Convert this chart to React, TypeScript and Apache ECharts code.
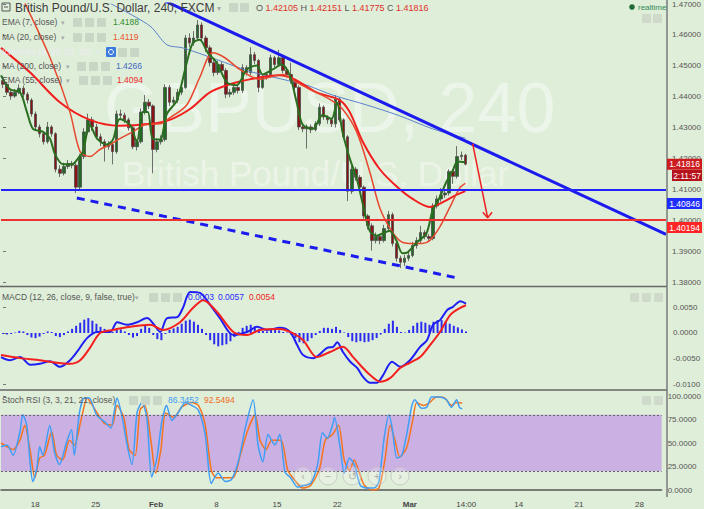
import { useEffect, useRef } from 'react';
import * as echarts from 'echarts';

// ---------- axis / time slots (8-hour bars, incl. future space) ----------
const slotCount = 164;
const tickIdx = [8, 23, 38, 53, 68, 83, 101, 115, 128, 143, 158];
const tickText = ['18', '25', 'Feb', '8', '15', '22', 'Mar', '14:00', '14', '21', '28'];

// ---------- price candles ----------
const opens = [
  1.4452, 1.444, 1.4414, 1.4402, 1.4414, 1.4427, 1.4408, 1.4389, 1.4344, 1.4302,
  1.428, 1.4254, 1.4302, 1.428, 1.4165, 1.4152, 1.4174, 1.4184, 1.4178, 1.4107,
  1.4206, 1.4286, 1.4325, 1.4302, 1.427, 1.4254, 1.4238, 1.4245, 1.4222, 1.4344,
  1.434, 1.4325, 1.4299, 1.4238, 1.4254, 1.435, 1.4382, 1.437, 1.4229, 1.4254,
  1.4261, 1.443, 1.4382, 1.4389, 1.4414, 1.443, 1.459, 1.4574, 1.459, 1.4632,
  1.459, 1.4558, 1.451, 1.4478, 1.4504, 1.4485, 1.4408, 1.4414, 1.443, 1.442,
  1.4494, 1.4478, 1.4536, 1.4517, 1.443, 1.4462, 1.4472, 1.4526, 1.4504, 1.4526,
  1.4485, 1.4472, 1.4453, 1.443, 1.4302, 1.4296, 1.4302, 1.4293, 1.4312, 1.4366,
  1.4334, 1.4325, 1.4312, 1.4392, 1.4325, 1.427, 1.4094, 1.4165, 1.4139, 1.4107,
  1.4014, 1.3982, 1.3934, 1.3947, 1.3934, 1.3973, 1.4018, 1.3925, 1.3877, 1.3864,
  1.3877, 1.3886, 1.3918, 1.3934, 1.396, 1.3947, 1.3941, 1.4046, 1.4069, 1.4082,
  1.4088, 1.4158, 1.4142, 1.4206, 1.42105,
];
const closes = [
  1.444, 1.4414, 1.4402, 1.4414, 1.4427, 1.4408, 1.4389, 1.4344, 1.4302, 1.428,
  1.4254, 1.4302, 1.428, 1.4165, 1.4152, 1.4174, 1.4184, 1.4178, 1.4107, 1.4206,
  1.4286, 1.4325, 1.4302, 1.427, 1.4254, 1.4238, 1.4245, 1.4222, 1.4344, 1.434,
  1.4325, 1.4299, 1.4238, 1.4254, 1.435, 1.4382, 1.437, 1.4229, 1.4254, 1.4261,
  1.443, 1.4382, 1.4389, 1.4414, 1.443, 1.459, 1.4574, 1.459, 1.4632, 1.459,
  1.4558, 1.451, 1.4478, 1.4504, 1.4485, 1.4408, 1.4414, 1.443, 1.442, 1.4494,
  1.4478, 1.4536, 1.4517, 1.443, 1.4462, 1.4472, 1.4526, 1.4504, 1.4526, 1.4485,
  1.4472, 1.4453, 1.443, 1.4302, 1.4296, 1.4302, 1.4293, 1.4312, 1.4366, 1.4334,
  1.4325, 1.4312, 1.4392, 1.4325, 1.427, 1.4094, 1.4165, 1.4139, 1.4107, 1.4014,
  1.3982, 1.3934, 1.3947, 1.3934, 1.3973, 1.4018, 1.3925, 1.3877, 1.3864, 1.3877,
  1.3886, 1.3918, 1.3934, 1.396, 1.3947, 1.3941, 1.4046, 1.4069, 1.4082, 1.4088,
  1.4158, 1.4142, 1.4206, 1.421, 1.41816,
];
const lows = [
  1.4428, 1.4405, 1.439, 1.4396, 1.4408, 1.4398, 1.4378, 1.4335, 1.429, 1.4268,
  1.4245, 1.4248, 1.427, 1.4155, 1.414, 1.4145, 1.4166, 1.4168, 1.4088, 1.41,
  1.4198, 1.4278, 1.429, 1.4262, 1.424, 1.419, 1.4228, 1.4181, 1.4215, 1.433,
  1.4315, 1.429, 1.423, 1.4226, 1.4248, 1.4342, 1.436, 1.4152, 1.422, 1.4245,
  1.4255, 1.437, 1.4372, 1.438, 1.4405, 1.4425, 1.456, 1.4565, 1.4582, 1.458,
  1.4545, 1.4498, 1.4466, 1.447, 1.4475, 1.4395, 1.4398, 1.4405, 1.441, 1.4412,
  1.4468, 1.447, 1.4505, 1.4414, 1.4425, 1.4455, 1.4465, 1.4495, 1.4498, 1.4476,
  1.4462, 1.4442, 1.442, 1.4292, 1.4285, 1.4232, 1.4282, 1.4288, 1.4305, 1.4325,
  1.4312, 1.4302, 1.43, 1.4318, 1.4262, 1.4062, 1.4085, 1.4128, 1.4095, 1.4005,
  1.397, 1.3902, 1.3925, 1.3922, 1.3928, 1.3965, 1.3915, 1.3866, 1.3845, 1.3852,
  1.3868, 1.388, 1.3908, 1.3925, 1.3938, 1.393, 1.3935, 1.4038, 1.406, 1.4072,
  1.408, 1.4118, 1.4135, 1.4195, 1.41775,
];
const highs = [
  1.4466, 1.4448, 1.442, 1.4425, 1.444, 1.4436, 1.4415, 1.4395, 1.4352, 1.431,
  1.4288, 1.4318, 1.4308, 1.4285, 1.4178, 1.4186, 1.4195, 1.4192, 1.4185, 1.4215,
  1.4298, 1.4345, 1.4335, 1.4312, 1.428, 1.4262, 1.4256, 1.425, 1.4355, 1.4358,
  1.4348, 1.4332, 1.4305, 1.4262, 1.4362, 1.4405, 1.4392, 1.4375, 1.4265, 1.4275,
  1.444, 1.4438, 1.44, 1.4425, 1.4446, 1.46, 1.4605, 1.4612, 1.4648, 1.464,
  1.4598, 1.4566, 1.4518, 1.4515, 1.4512, 1.4492, 1.4425, 1.444, 1.4438, 1.4505,
  1.4502, 1.456, 1.4545, 1.4522, 1.447, 1.448, 1.4536, 1.4532, 1.4552, 1.453,
  1.4496, 1.451, 1.4458, 1.4436, 1.4312, 1.431, 1.431, 1.432, 1.4378, 1.4372,
  1.434, 1.4332, 1.4405, 1.4398, 1.433, 1.4275, 1.4176, 1.4172, 1.4146, 1.4112,
  1.402, 1.399, 1.396, 1.3955, 1.3985, 1.403, 1.4025, 1.3932, 1.3885, 1.3888,
  1.3898, 1.393, 1.3945, 1.3982, 1.3968, 1.3955, 1.4055, 1.408, 1.4104, 1.4098,
  1.4165, 1.4165, 1.424, 1.4222, 1.42151,
];

// ---------- moving averages [bar position, price] ----------
const ema7 = [[-0.5,1.4469],[1.7,1.4424],[4.2,1.4414],[5.9,1.435],[7.4,1.4296],[9.9,1.4286],[11.6,1.4264],[12.8,1.4214],[14.8,1.4181],[17,1.4181],[18.5,1.42],[19.7,1.4222],[21.4,1.4309],[23.2,1.4264],[25.6,1.4245],[27.1,1.4261],[28.8,1.4328],[31.3,1.4309],[33,1.4254],[34.5,1.435],[35.7,1.435],[36.9,1.4264],[38.7,1.4261],[40.4,1.4344],[42.9,1.4389],[45.3,1.451],[46.8,1.4574],[48.5,1.4584],[50.5,1.4542],[52.7,1.451],[55.2,1.4446],[57.6,1.4437],[60.1,1.4488],[62.6,1.4501],[64,1.4472],[66.5,1.4488],[68.7,1.4504],[70.7,1.4469],[72.4,1.4382],[73.9,1.4309],[76.4,1.4296],[78.8,1.4341],[81,1.4328],[82.3,1.4382],[83.7,1.4286],[85.5,1.42],[87.2,1.4136],[88.7,1.4053],[90.4,1.3966],[92.1,1.395],[93.6,1.3957],[95.3,1.3966],[97,1.3934],[98.5,1.3893],[99.8,1.3896],[102,1.3928],[104.4,1.3957],[105.9,1.403],[107.6,1.4072],[109.4,1.4126],[110.8,1.4158],[112.1,1.419],[114,1.4188]];
const ma20 = [[5.4,1.4702],[11.6,1.4526],[16.5,1.435],[19,1.4222],[21.4,1.4206],[23.9,1.4229],[26.4,1.4245],[28.8,1.4264],[32,1.4286],[35,1.4309],[38.7,1.4312],[41.1,1.4331],[45.3,1.4373],[48.5,1.4462],[51.7,1.4542],[54.7,1.4526],[58.4,1.4488],[63.3,1.4456],[69,1.4472],[72.4,1.4446],[75.6,1.4424],[80.5,1.4392],[83.7,1.436],[87.2,1.4286],[90.4,1.4158],[92.9,1.404],[95.3,1.3976],[97.8,1.3934],[100.2,1.3925],[103.4,1.3925],[105.2,1.3934],[107.6,1.3976],[110.1,1.404],[112.6,1.4104],[114,1.4119]];
const ema55 = [[-0.5,1.4558],[6.7,1.4478],[14,1.4382],[21.4,1.4325],[28.8,1.4306],[36.2,1.4312],[41.1,1.4325],[46.1,1.436],[51,1.4414],[55.9,1.444],[60.8,1.4456],[68.2,1.4469],[71.9,1.4456],[77.3,1.4414],[83,1.4389],[85.5,1.435],[88.7,1.4254],[92.9,1.4165],[97,1.411],[101,1.4069],[105.2,1.4043],[107.6,1.4053],[111.8,1.4082],[114,1.4094]];
const ma200 = [[26.4,1.4702],[36.2,1.4629],[40.4,1.4568],[44.3,1.4558],[52.7,1.452],[60.8,1.4482],[69,1.4456],[74.9,1.4437],[81.3,1.4405],[89.7,1.4373],[97.8,1.4338],[105.9,1.4296],[112.6,1.427],[114,1.4266]];

// ---------- drawn levels / trend lines ----------
const blueLevel = 1.40846;
const redLevel = 1.40194;
const lastPrice = 1.41816;
const countdown = '2:11:57';
const trendDown = [[40, 1.4709], [163.5, 1.3954]];
const trendSupport = [[18.2, 1.4072], [112.1, 1.3813]];
const arrowShaft = [[115.8, 1.4248], [119.5, 1.4008]];
const arrowHead = [[118.3, 1.4026], [119.5, 1.4008], [120.6, 1.4026]];

// ---------- MACD ----------
const macdLine = [[-0.5,-0.0047],[1.7,-0.0053],[4.2,-0.0047],[6.7,-0.0062],[9.1,-0.006],[11.6,-0.0055],[14,-0.0066],[16.5,-0.0053],[18.2,-0.0037],[20.7,-0.001],[23.2,0.0002],[26.4,0.0002],[28.1,0.0021],[30.5,0.0016],[33,0.0021],[35.5,0.0029],[36.9,0.0019],[38.7,0.0002],[40.4,0.0029],[42.9,0.0031],[44.3,0.0049],[46.1,0.008],[48.5,0.0078],[51,0.0055],[53.4,0.0029],[56.7,-0.0004],[60.1,0.0002],[62.6,0.0012],[65,0.0006],[68.2,0.001],[70.7,0.0002],[72.4,-0.0023],[73.9,-0.0043],[76.4,-0.0049],[79.8,-0.0029],[81.3,-0.0027],[82.3,-0.0018],[83.7,-0.0037],[85.5,-0.0056],[87.2,-0.0068],[88.7,-0.0086],[90.4,-0.0097],[92.1,-0.0097],[93.6,-0.0082],[95.8,-0.0056],[97.8,-0.0066],[100.2,-0.0053],[102.7,-0.0027],[104.4,-0.0014],[105.9,0.0016],[107.6,0.0025],[109.4,0.0045],[110.8,0.0051],[112.6,0.0062],[114,0.0057]];
const signalLine = [[-0.5,-0.0043],[4.2,-0.0049],[9.1,-0.0053],[13.3,-0.0058],[16.5,-0.006],[19,-0.0053],[21.4,-0.0029],[23.9,0],[27.1,0.0006],[31.3,0.0012],[36.2,0.0016],[39.4,0.0006],[43.6,0.0021],[46.8,0.0049],[49.3,0.0064],[52.7,0.0041],[56.7,0.0002],[60.1,-0.0004],[63.3,0.0006],[68.2,0.0008],[70.7,0.0002],[73.9,-0.0014],[77.3,-0.0047],[80.5,-0.0037],[83.7,-0.0027],[86.2,-0.0047],[87.9,-0.0062],[90.4,-0.0082],[92.9,-0.0095],[95.3,-0.0088],[97.8,-0.0068],[100.2,-0.0058],[102.7,-0.0047],[105.2,-0.0023],[107.6,0.0002],[110.1,0.0035],[112.6,0.0049],[114,0.0054]];
const macdHist = [
  -0.0002, -0.0003, -0.0002, 0.0001, 0.0004, 0.0003, -0.0004, -0.0009, -0.001, -0.0007,
  -0.0002, 0.0003, 0.0002, -0.0006, -0.0008, -0.0004, 0.0003, 0.0008, 0.0014, 0.002,
  0.0026, 0.0029, 0.0024, 0.0018, 0.0012, 0.0008, 0.0003, 0.0002, 0.0008, 0.0007,
  0.0003, -0.0004, -0.0009, -0.0006, 0.0008, 0.0014, 0.001, -0.0004, -0.0012, -0.0014,
  -0.0002, 0.0006, 0.0009, 0.0012, 0.0018, 0.0024, 0.0026, 0.0022, 0.0016, 0.0008,
  -0.0004, -0.0014, -0.0022, -0.0026, -0.0024, -0.0022, -0.0016, -0.0008, 0.0002, 0.001,
  0.0014, 0.0016, 0.0013, 0.0008, 0.0004, 0.0003, 0.0006, 0.0007, 0.0005, 0.0002,
  0.0001, -0.0003, -0.001, -0.0018, -0.002, -0.0016, -0.001, -0.0004, 0.0004, 0.001,
  0.001, 0.0008, 0.0012, 0.0006, 0.0001, -0.0008, -0.0016, -0.0018, -0.0016, -0.0018,
  -0.0017, -0.0014, -0.001, -0.0003, 0.0008, 0.0018, 0.0024, 0.0012, 0.0002, 0.0001,
  0.0006, 0.0014, 0.002, 0.0022, 0.002, 0.0016, 0.0022, 0.0025, 0.0025, 0.0023,
  0.0018, 0.0014, 0.0011, 0.0007, 0.0003,
];

// ---------- Stoch RSI ----------
const stochK = [[-0.5,46],[1,48],[2.5,37],[4.2,62],[4.9,80],[5.9,69],[6.7,30],[7.4,9],[8.4,23],[9.1,46],[9.9,37],[11.6,69],[12.8,40],[14,27],[15.8,51],[17,64],[17.7,37],[19,83],[20.2,98],[21.4,98],[23.2,80],[25.6,71],[26.8,66],[27.6,83],[28.3,98],[29.6,77],[30.8,48],[32,27],[33.3,83],[34.5,93],[35.7,77],[36.9,14],[38.2,34],[39.4,72],[40.6,90],[41.9,74],[43.6,83],[45.3,93],[46.8,90],[48.5,85],[50.2,59],[51.7,7],[53.4,18],[55.2,9],[56.7,11],[58.4,30],[60.3,69],[62.1,96],[63.3,48],[64.5,30],[65.8,59],[67.5,48],[68.7,59],[70,19],[71.4,13],[73.2,3],[74.9,5],[76.4,7],[78.1,27],[79.3,61],[80.5,55],[81.8,69],[82.3,77],[83.7,45],[84.7,18],[86,34],[87.2,27],[88.7,5],[90.4,2],[92.1,2],[93.3,9],[94.6,55],[95.8,80],[96.6,66],[97.8,34],[99,37],[100.2,59],[101.5,90],[102.2,96],[103.9,87],[105.2,88],[106.4,99],[108.4,99],[110.1,96],[111.3,88],[112.6,96],[113.3,88],[114,86.3452]];
const stochD = [[-0.5,50],[1,46],[2.5,43],[4.2,53],[5.4,69],[6.7,43],[7.9,13],[9.1,34],[10.3,37],[12.1,62],[13.3,37],[14.8,32],[16.5,53],[17.7,48],[19.5,77],[20.9,98],[22.2,90],[25.1,71],[27.1,69],[28.3,90],[30,77],[31.3,43],[32.8,37],[34,85],[35.2,90],[36.7,53],[37.9,18],[39.2,43],[40.4,82],[42.4,77],[44.3,88],[46.8,93],[48.5,90],[50.2,69],[51.7,21],[53,13],[54.7,13],[57.1,13],[58.9,37],[60.8,64],[62.6,80],[63.8,53],[65.3,43],[66.7,53],[69,53],[70.7,21],[72.7,9],[74.4,2],[76.4,5],[78.6,23],[80,53],[81.8,59],[83.3,69],[84.7,32],[86,21],[87.2,32],[88.4,19],[89.7,5],[91.6,0],[93.3,2],[94.8,32],[96.1,69],[97.3,53],[98.5,35],[100.2,45],[101.7,74],[102.7,93],[104.4,90],[105.9,93],[107.6,99],[109.6,98],[111.3,90],[112.6,93],[114,92.5494]];

const FONT = '"Liberation Sans", Arial, sans-serif';
const BG = '#dfeed9';

function txt(text: string, x: number, y: number, size: number, fill: string, extra: any = {}) {
  return {
    type: 'text', x, y, z: extra.z ?? 100, silent: true,
    style: { text, fill, font: `${extra.bold ? 'bold ' : ''}${size}px ${FONT}`, textVerticalAlign: 'middle', verticalAlign: 'middle', textAlign: extra.align || 'left', align: extra.align || 'left' },
  };
}
function icon(x: number, y: number, fill = '#c9d5c5') {
  return { type: 'rect', z: 100, silent: true, shape: { x, y, width: 9, height: 9, r: 1 }, style: { fill } };
}
function priceBox(text: string, x: number, y: number, w: number, fill: string) {
  return [
    { type: 'rect', z: 105, silent: true, shape: { x, y, width: w, height: 11 }, style: { fill } },
    txt(text, x + w / 2, y + 5.8, 8.5, '#fff', { align: 'center', z: 112 }),
  ];
}

export default function App() {
  const ref = useRef<HTMLDivElement>(null);
  useEffect(() => {
    document.body.style.margin = '0';
    document.body.style.background = BG;
    const chart = echarts.init(ref.current!, null, { renderer: 'svg' });
    const cats = Array.from({ length: slotCount }, (_, i) => {
      const k = tickIdx.indexOf(i);
      return k >= 0 ? tickText[k] : '';
    });
    const candles = opens.map((o, i) => [o, closes[i], lows[i], highs[i]]);
    const L = 1, R = 37;
    const grids = [
      { left: L, right: R, top: 0.75, height: 281.25 },
      { left: L, right: R, top: 286.8, height: 97.5 },
      { left: L, right: R, top: 396, height: 94 },
    ];
    const catAxis = (gi: number, show: boolean) => ({
      type: 'category', gridIndex: gi, data: cats, boundaryGap: true, show,
      offset: show ? 6 : 0,
      axisLine: { show, lineStyle: { color: '#555', width: 1.5 } },
      axisTick: { show: false },
      axisLabel: {
        show, margin: 4, fontSize: 8, color: '#444', fontFamily: FONT,
        interval: (_i: number, v: string) => v !== '',
        formatter: (v: string) => (v === 'Feb' || v === 'Mar' ? `{b|${v}}` : v),
        rich: { b: { fontWeight: 'bold', fontSize: 8, color: '#444', fontFamily: FONT } },
      },
      splitLine: { show: false },
    });
    const valX = (gi: number) => ({ type: 'value', gridIndex: gi, min: -0.5, max: slotCount - 0.5, show: false });
    const yAx = (gi: number, min: number, max: number, interval: number, dec: number, hideMax = false) => ({
      type: 'value', gridIndex: gi, position: 'right', min, max, interval, scale: true,
      axisLine: { show: false },
      axisTick: { show: true, length: 3, lineStyle: { color: '#777' } },
      splitLine: { show: false },
      axisLabel: {
        margin: 6, fontSize: 8, color: '#555', fontFamily: FONT, showMaxLabel: !hideMax,
        formatter: (v: number) => (Math.abs(v) < 1e-9 ? 0 : v).toFixed(dec),
      },
    });
    const ln = (data: any, color: string, width: number, xi: number, yi: number, extra: any = {}) => ({
      type: 'line', data, xAxisIndex: xi, yAxisIndex: yi, symbol: 'none', silent: true,
      lineStyle: { color, width, ...(extra.lineStyle || {}) }, smooth: extra.smooth ?? 0, z: extra.z ?? 3,
      ...(extra.more || {}),
    });

    const graphic: any[] = [
      // watermark
      { type: 'text', z: -10, silent: true, x: 104, y: 143, style: { text: 'GBPUSD, 240', fill: 'rgba(255,255,255,0.42)', font: `70px ${FONT}`, textVerticalAlign: 'bottom', verticalAlign: 'bottom' } },
      { type: 'text', z: -10, silent: true, x: 122, y: 191, style: { text: 'British Pound/U.S. Dollar', fill: 'rgba(255,255,255,0.42)', font: `35px ${FONT}`, textVerticalAlign: 'bottom', verticalAlign: 'bottom' } },
      // frame lines
      { type: 'line', z: 50, silent: true, shape: { x1: 0, y1: 286.5, x2: 667, y2: 286.5 }, style: { stroke: '#666', lineWidth: 1.5 } },
      { type: 'line', z: 50, silent: true, shape: { x1: 0, y1: 390, x2: 667, y2: 390 }, style: { stroke: '#666', lineWidth: 1.5 } },
      { type: 'line', z: 50, silent: true, shape: { x1: 667, y1: 0, x2: 667, y2: 497 }, style: { stroke: '#7a7a7a', lineWidth: 1.5 } },
      // title row
      { type: 'rect', z: 100, silent: true, shape: { x: 2, y: 3, width: 8, height: 8 }, style: { fill: 'none', stroke: '#555', lineWidth: 1 } },
      { type: 'line', z: 100, silent: true, shape: { x1: 4, y1: 7, x2: 8, y2: 7 }, style: { stroke: '#555', lineWidth: 1 } },
      txt('British Pound/U.S. Dollar, 240, FXCM', 15, 8, 12, '#3c3c3c'),
      txt('▾', 217, 8, 8, '#aaa'),
      icon(229, 3), icon(240, 3),
      {
        type: 'text', x: 256, y: 8, z: 100, silent: true,
        style: {
          text: '{g|O} {r|1.42105} {g|H} {r|1.42151} {g|L} {r|1.41775} {g|C} {r|1.41816}',
          font: `9px ${FONT}`, textVerticalAlign: 'middle', verticalAlign: 'middle',
          rich: { g: { fill: '#555', font: `9px ${FONT}` }, r: { fill: '#e0302a', font: `9px ${FONT}` } },
        },
      },
      // indicator legend rows
      txt('EMA (7, close)', 2, 22, 8.5, '#555'), txt('▾', 61, 22, 7, '#aaa'), icon(73, 18), icon(85, 18), icon(97, 18), txt('1.4188', 113, 22, 8.5, '#2f8a2f'),
      txt('MA (20, close)', 2, 37, 8.5, '#555'), txt('▾', 61, 37, 7, '#aaa'), icon(73, 33), icon(85, 33), icon(97, 33), txt('1.4119', 113, 37, 8.5, '#e8532f'),
      txt('Ichimoku (9, 26, 52, 26)', 2, 52, 8.5, 'rgba(238,236,246,0.95)'), txt('▾', 96, 52, 7, 'rgba(235,235,240,0.9)'),
      { type: 'rect', z: 100, silent: true, shape: { x: 106, y: 47, width: 10, height: 10, r: 1 }, style: { fill: '#3b7be0' } },
      { type: 'circle', z: 101, silent: true, shape: { cx: 111, cy: 52, r: 2.5 }, style: { fill: 'none', stroke: '#fff', lineWidth: 1 } },
      icon(118, 48), icon(130, 48),
      txt('MA (200, close)', 2, 66, 8.5, '#555'), txt('▾', 66, 66, 7, '#aaa'), icon(77, 62), icon(89, 62), icon(101, 62), txt('1.4266', 116, 66, 8.5, '#4169c4'),
      txt('EMA (55, close)', 2, 80, 8.5, '#555'), txt('▾', 66, 80, 7, '#aaa'), icon(79, 76), icon(91, 76), icon(103, 76), txt('1.4094', 117, 80, 8.5, '#f02a2a'),
      // realtime badge
      { type: 'circle', z: 100, silent: true, shape: { cx: 632, cy: 7, r: 2.8 }, style: { fill: '#1e6b35' } },
      txt('realtime', 638, 7, 8, '#2e8b57'),
      icon(642, 14, '#cfdacb'), icon(653, 14, '#cfdacb'),
      // MACD legend
      txt('MACD (12, 26, close, 9, false, true)', 2, 297, 8.5, '#555'), txt('▾', 135, 297, 7, '#aaa'),
      icon(149, 293), icon(161, 293), icon(173, 293),
      txt('0.0003', 188, 297, 8.5, '#2a2aff'), txt('0.0057', 218, 297, 8.5, '#2a2aff'), txt('0.0054', 249, 297, 8.5, '#f02020'),
      icon(630, 293, '#cfdacb'), icon(642, 293, '#cfdacb'), icon(654, 293, '#cfdacb'),
      // Stoch legend
      txt('Stoch RSI (3, 3, 21, 21, close)', 2, 400, 8.5, '#555'),
      icon(129, 396), icon(141, 396), icon(153, 396),
      txt('86.3452', 168, 400, 8.5, '#3d9cf0'), txt('92.5494', 204, 400, 8.5, '#f26b1d'),
      icon(642, 396, '#cfdacb'), icon(654, 396, '#cfdacb'),
      // price-scale badges (level badges sit just below their lines, as in the source)
      ...priceBox(countdown, 672, 170, 30, '#b5121b'),
      ...priceBox(blueLevel.toFixed(5), 667, 198, 35, '#1f2cff'),
      ...priceBox(redLevel.toFixed(5), 667, 222, 35, '#ff2424'),
    ];
    // chart navigation buttons
    const navX = [303, 328, 352, 377, 400];
    const navG = ['‹', '−', '↺', '+', '›'];
    navX.forEach((x, k) => {
      graphic.push({ type: 'circle', z: 95, silent: true, shape: { cx: x, cy: 476, r: 9 }, style: { fill: 'rgba(255,255,255,0.22)', stroke: 'rgba(190,190,190,0.7)', lineWidth: 1 } });
      graphic.push(txt(navG[k], x, 476, 11, 'rgba(165,165,165,0.85)', { align: 'center' }));
    });

    const option: any = {
      animation: false,
      backgroundColor: BG,
      textStyle: { fontFamily: FONT },
      grid: grids,
      xAxis: [catAxis(0, false), catAxis(1, false), catAxis(2, true), valX(0), valX(1), valX(2)],
      yAxis: [
        yAx(0, 1.38, 1.47, 0.01, 5),
        yAx(1, -0.01, 0.009, 0.005, 4, true),
        yAx(2, 0, 100, 25, 4),
      ],
      graphic,
      series: [
        {
          type: 'candlestick', data: candles, xAxisIndex: 0, yAxisIndex: 0, barWidth: 3, silent: true, z: 2,
          itemStyle: { color: '#1f6b22', color0: '#8b1212', borderColor: '#4d4d4d', borderColor0: '#4d4d4d', borderWidth: 0.8 },
        },
        ln(ma200, '#5b82cc', 1, 3, 0, {
          smooth: 0.3,
          more: {
            markLine: {
              silent: true, symbol: 'none', z: 20, label: { show: false },
              data: [
                { yAxis: blueLevel, lineStyle: { color: '#2323ff', width: 2, type: 'solid' } },
                { yAxis: redLevel, lineStyle: { color: '#ee3030', width: 2, type: 'solid' } },
              ],
            },
          },
        }),
        ln(ema55, '#f21d1d', 2, 3, 0, { smooth: 0.3 }),
        ln(ma20, '#e8472f', 1.5, 3, 0, { smooth: 0.3 }),
        ln(ema7, '#2a6e1f', 2, 3, 0, { smooth: 0.3 }),
        ln(trendDown, '#1b1bf0', 3, 3, 0, { z: 6 }),
        ln(trendSupport, '#1b1bf0', 3, 3, 0, { z: 6, lineStyle: { type: [8, 6] } }),
        ln(arrowShaft, '#ee2222', 1.5, 3, 0, { z: 6 }),
        ln(arrowHead, '#ee2222', 1.5, 3, 0, { z: 6 }),
        {
          type: 'bar', data: macdHist, xAxisIndex: 1, yAxisIndex: 1, barWidth: 2, silent: true,
          itemStyle: { color: '#2c2cf0' },
        },
        ln(macdLine, '#1f1ff5', 2, 4, 1, { smooth: 0.3 }),
        ln(signalLine, '#f51f1f', 2, 4, 1, { smooth: 0.3 }),
        ln(stochD, '#f5731f', 1.5, 5, 2, {
          smooth: 0.25,
          more: {
            markArea: { silent: true, itemStyle: { color: '#cbb0e3' }, data: [[{ yAxis: 20 }, { yAxis: 80 }]] },
            markLine: {
              silent: true, symbol: 'none', label: { show: false },
              lineStyle: { color: '#666', width: 1, type: [2, 2] },
              data: [{ yAxis: 20 }, { yAxis: 80 }],
            },
          },
        }),
        ln(stochK, '#3f9ef5', 1.5, 5, 2, { smooth: 0.25 }),
      ],
    };
    chart.setOption(option);
    // last-price badge, placed on the price scale at the last close
    const py = chart.convertToPixel({ yAxisIndex: 0 }, lastPrice) as number;
    chart.setOption({ graphic: [...graphic, ...priceBox(lastPrice.toFixed(5), 667, py - 5.5, 35, '#cc1a1f')] });
    return () => chart.dispose();
  }, []);
  return <div ref={ref} style={{ position: 'absolute', left: 0, top: 0, width: 704, height: 509 }} />;
}
